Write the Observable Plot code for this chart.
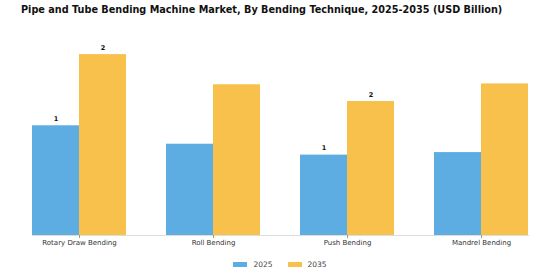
<!DOCTYPE html>
<html>
<head>
<meta charset="utf-8">
<script src="https://cdn.jsdelivr.net/npm/d3@7"></script>
<script src="https://cdn.jsdelivr.net/npm/@observablehq/plot@0.6"></script>
<style>
  html, body { margin: 0; padding: 0; background: #fff; width: 560px; height: 280px; overflow: hidden; font-family: "DejaVu Sans", sans-serif; }
  #title { height: 22px; line-height: 20px; font-size: 9.7px; font-weight: bold; color: #111; white-space: nowrap; padding-left: 21px; }
  #legend { display: flex; justify-content: center; align-items: center; gap: 15px; font-size: 7.5px; color: #444; margin-top: 3px; }
  #legend .item { display: flex; align-items: center; gap: 6px; }
  #legend .sw { width: 14px; height: 5px; display: inline-block; }
</style>
</head>
<body>
<div id="title">Pipe and Tube Bending Machine Market, By Bending Technique, 2025-2035 (USD Billion)</div>
<div id="chart"></div>
<div id="legend"></div>
<script>
const categories = ["Rotary Draw Bending", "Roll Bending", "Push Bending", "Mandrel Bending"];
const years = ["2025", "2035"];
const values2025 = [1.31, 1.09, 0.96, 0.99];
const values2035 = [2.16, 1.80, 1.60, 1.81];
const labeledCategories = ["Rotary Draw Bending", "Push Bending"];
const colors = ["#5DADE2", "#F7C14B"];

const rows = [];
categories.forEach((c, i) => {
  rows.push({category: c, year: years[0], value: values2025[i]});
  rows.push({category: c, year: years[1], value: values2035[i]});
});
const labeled = rows.filter(d => labeledCategories.includes(d.category));

const plot = Plot.plot({
  width: 560,
  height: 235,
  marginLeft: 8,
  marginRight: 8,
  marginTop: 12,
  marginBottom: 22,
  style: { fontFamily: "DejaVu Sans, sans-serif", background: "#fff" },
  fx: { domain: categories, paddingInner: 0.3, paddingOuter: 0.175, label: null, axis: null },
  x: { domain: years, padding: 0, axis: null },
  y: { domain: [0, 2.4], axis: null },
  color: { domain: years, range: colors },
  marks: [
    Plot.frame({ anchor: "bottom", stroke: "#dddddd", strokeWidth: 1, facet: "super" }),
    Plot.barY(rows, { fx: "category", x: "year", y: "value", fill: "year" }),
    Plot.text(labeled, { fx: "category", x: "year", y: "value", text: d => d3.format(".0f")(d.value), dy: -7, fontSize: 6.5, fontWeight: "bold", fill: "#111" }),
    Plot.axisFx({ anchor: "bottom", label: null, tickSize: 3, tickPadding: 2, fontSize: 7, stroke: "#999", color: "#333" })
  ]
});
document.getElementById("chart").appendChild(plot);

const legend = document.getElementById("legend");
years.forEach((y, i) => {
  const item = document.createElement("span");
  item.className = "item";
  const sw = document.createElement("span");
  sw.className = "sw";
  sw.style.background = colors[i];
  const t = document.createElement("span");
  t.textContent = y;
  item.appendChild(sw);
  item.appendChild(t);
  legend.appendChild(item);
});
</script>
</body>
</html>
